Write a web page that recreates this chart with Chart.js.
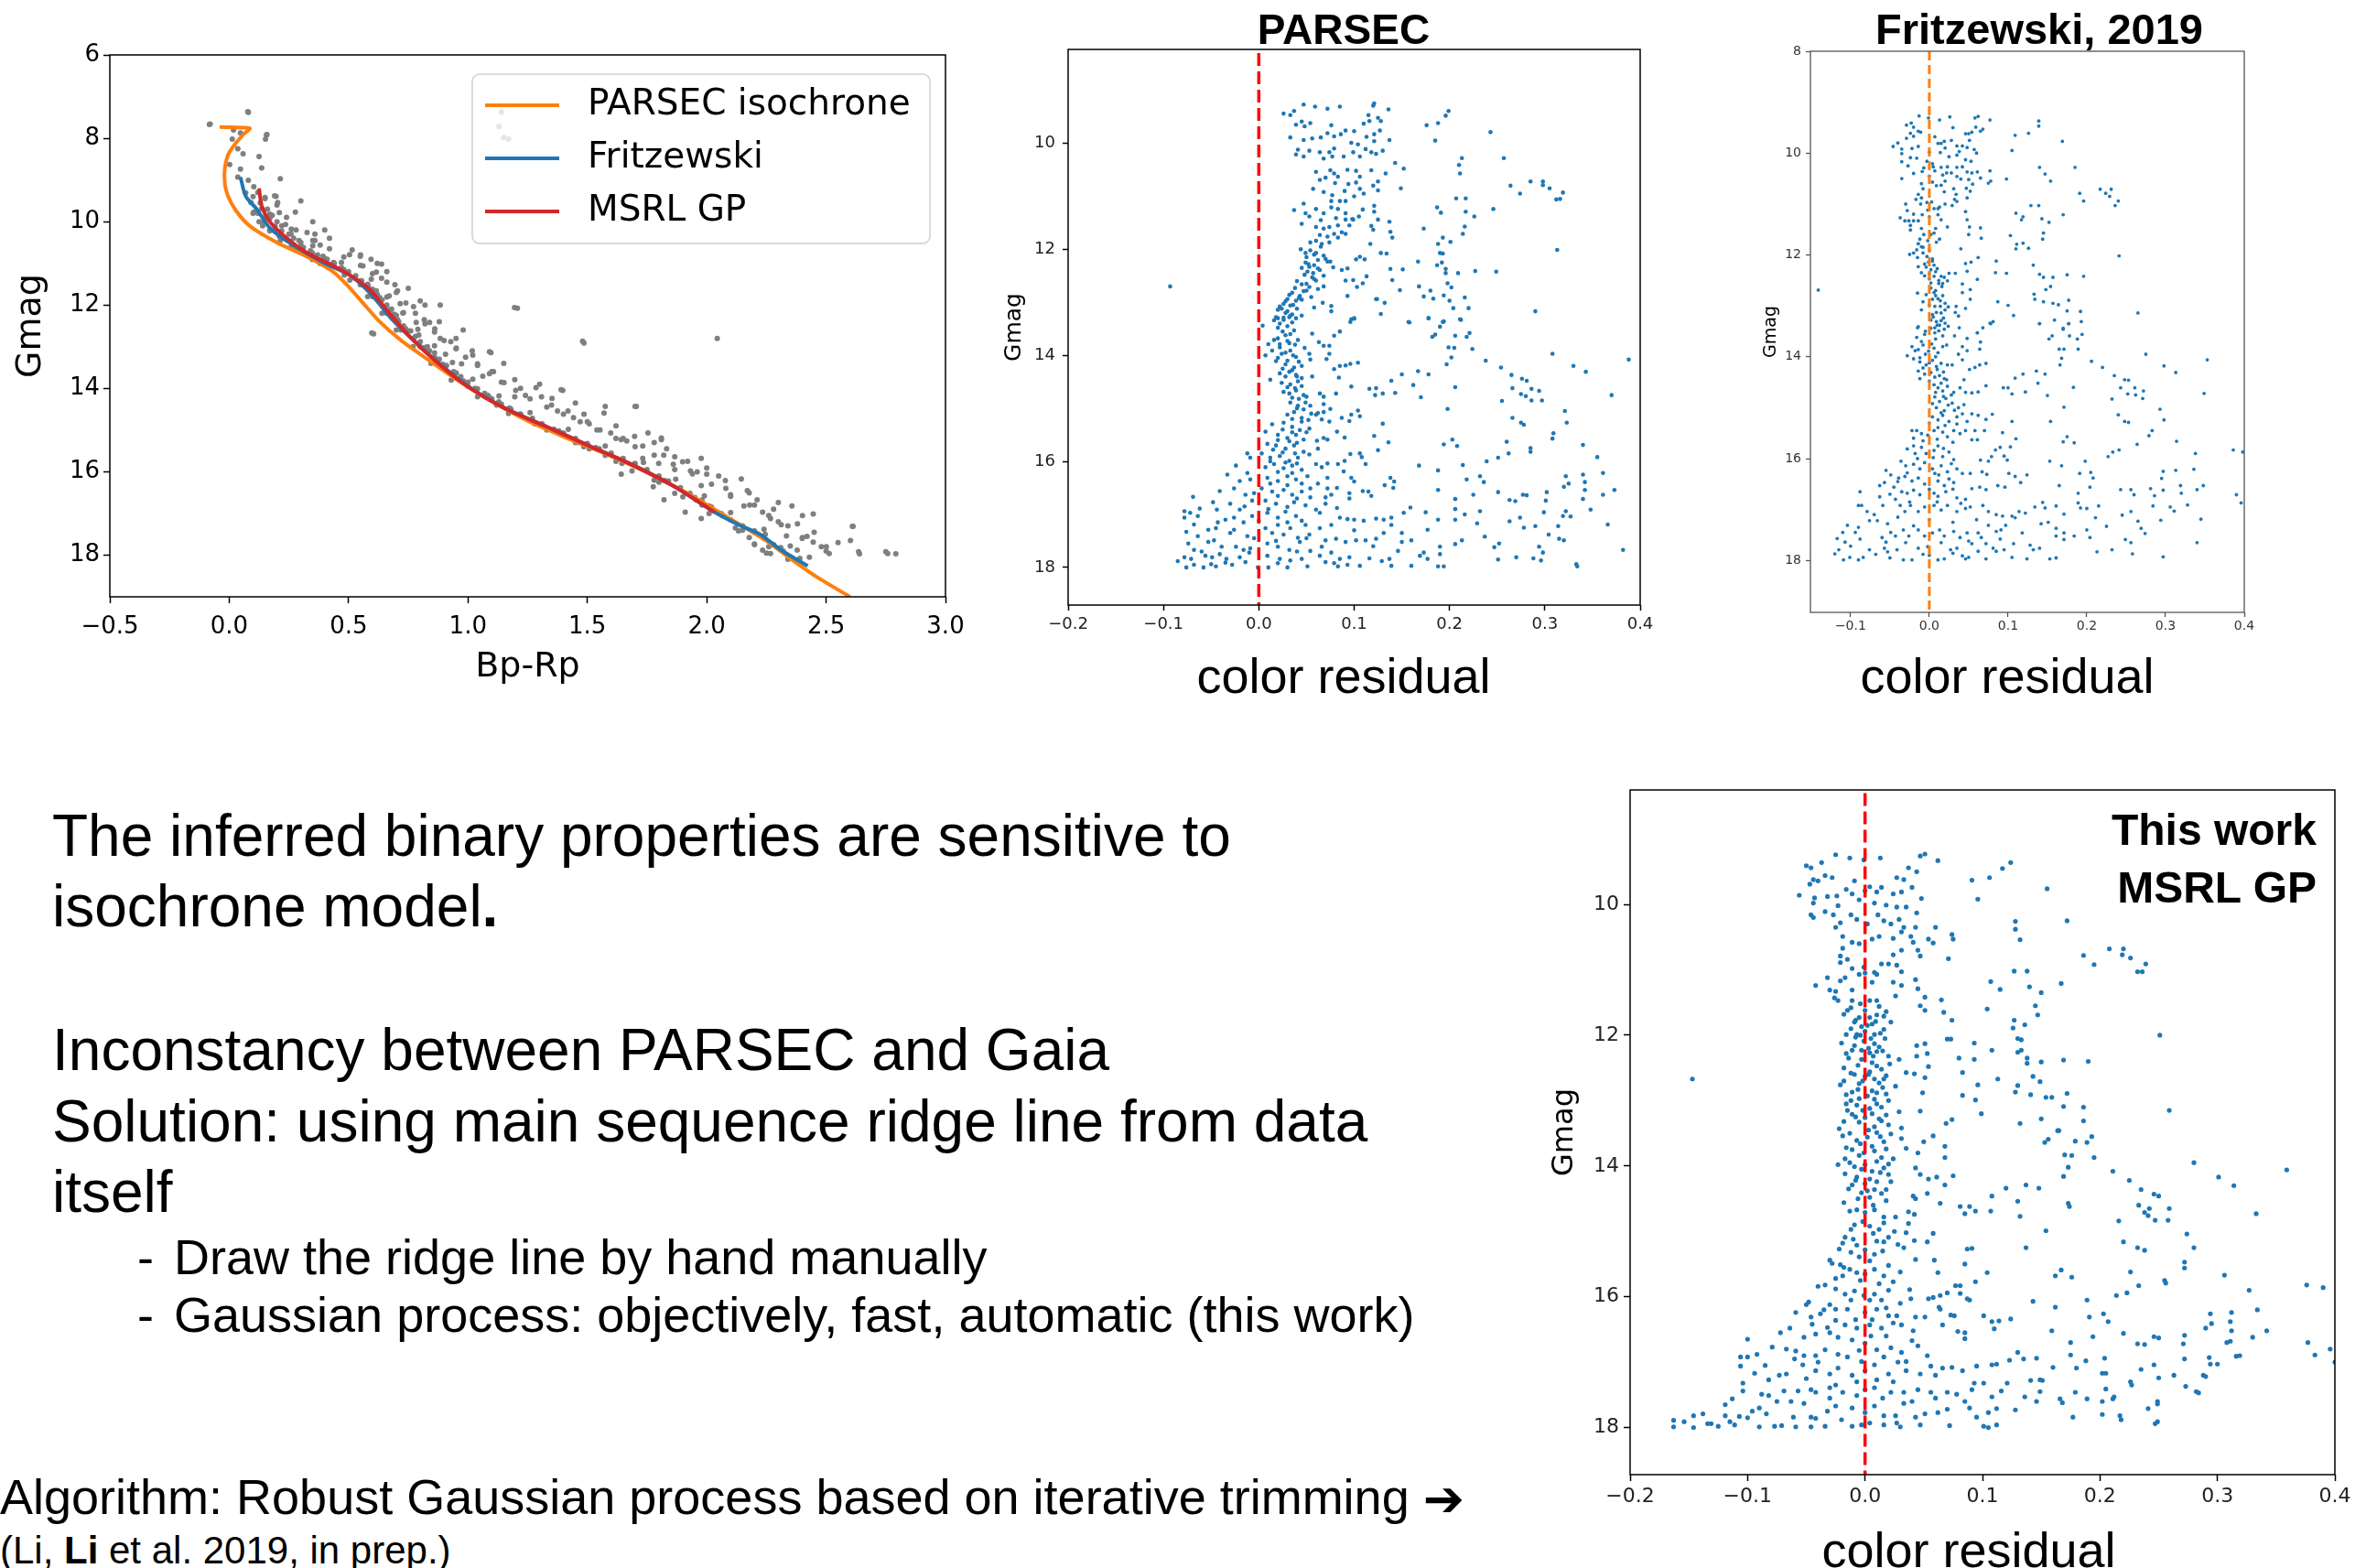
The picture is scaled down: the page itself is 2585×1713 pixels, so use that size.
<!DOCTYPE html>
<html>
<head>
<meta charset="utf-8">
<script src="https://cdn.jsdelivr.net/npm/chart.js@4.4.1/dist/chart.umd.min.js"></script>
<style>
html, body { margin: 0; padding: 0; background: #fff; }
body { width: 2585px; height: 1713px; overflow: hidden; position: relative; font-family: "Liberation Sans", Arial, Helvetica, sans-serif; color: #000; }
.cv { position: absolute; }
.t { position: absolute; white-space: nowrap; line-height: 1; }
.b { font-weight: bold; }
.c { transform: translateX(-50%); }
</style>
</head>
<body>

<canvas id="cmd" class="cv"></canvas>
<canvas id="parsec" class="cv"></canvas>
<canvas id="fritz" class="cv"></canvas>
<canvas id="gp" class="cv"></canvas>

<div class="t b c" style="left:1468px;top:9px;font-size:46px">PARSEC</div>
<div class="t b c" style="left:2228px;top:8px;font-size:47px">Fritzewski, 2019</div>
<div class="t b" style="right:54px;top:883px;font-size:48px;text-align:right">This work</div>
<div class="t b" style="right:54px;top:946px;font-size:48px;text-align:right">MSRL GP</div>
<div class="t c" style="left:1468px;top:711px;font-size:54px">color residual</div>
<div class="t c" style="left:2193px;top:711px;font-size:54px">color residual</div>
<div class="t c" style="left:2151px;top:1666px;font-size:54px">color residual</div>

<div class="t" style="left:57px;top:881px;font-size:64px">The inferred binary properties are sensitive to</div>
<div class="t" style="left:57px;top:958px;font-size:64px">isochrone model<b>.</b></div>
<div class="t" style="left:57px;top:1115px;font-size:64px">Inconstancy between PARSEC and Gaia</div>
<div class="t" style="left:57px;top:1193px;font-size:64px">Solution: using main sequence ridge line from data</div>
<div class="t" style="left:57px;top:1270px;font-size:64px">itself</div>
<div class="t" style="left:150px;top:1346px;font-size:54px">-</div>
<div class="t" style="left:190px;top:1346px;font-size:54px">Draw the ridge line by hand manually</div>
<div class="t" style="left:150px;top:1409px;font-size:54px">-</div>
<div class="t" style="left:190px;top:1409px;font-size:54px">Gaussian process: objectively, fast, automatic (this work)</div>
<div class="t" style="left:0px;top:1608px;font-size:54px">Algorithm: Robust Gaussian process based on iterative trimming <span style="font-family:'DejaVu Sans';font-weight:bold;font-size:54px;position:relative;top:2px">&#x2794;</span></div>
<div class="t" style="left:0px;top:1673px;font-size:42px">(Li, <b>Li</b> et al. 2019, in prep.)</div>

<script>
// ---- CMD panel: ridge lines (Bp-Rp, Gmag) ----
const parsecIso = [[-0.04,7.73],[0.086,7.76],[0.06,7.9],[0.03,8.1],[-0.005,8.4],[-0.02,8.86],[-0.01,9.31],[0.03,9.75],[0.09,10.12],[0.2,10.5],[0.33,10.85],[0.43,11.18],[0.49,11.5],[0.56,11.95],[0.63,12.4],[0.72,12.85],[0.83,13.3],[0.95,13.78],[1.09,14.28],[1.25,14.78],[1.41,15.18],[1.58,15.58],[1.75,16.02],[1.93,16.55],[2.09,17.1],[2.24,17.62],[2.35,18.08],[2.46,18.52],[2.6,19.0]];
const fritzRidge = [[0.047,8.93],[0.069,9.39],[0.114,9.69],[0.17,10.15],[0.259,10.53],[0.393,10.98],[0.504,11.28],[0.594,11.74],[0.683,12.35],[0.76,12.78],[0.865,13.33],[0.998,13.94],[1.155,14.47],[1.33,14.92],[1.508,15.38],[1.687,15.83],[1.866,16.36],[2.033,16.97],[2.133,17.27],[2.223,17.5],[2.312,17.88],[2.423,18.26]];
const gpRidge = [[0.125,9.2],[0.136,9.62],[0.17,10.0],[0.236,10.37],[0.326,10.75],[0.437,11.06],[0.527,11.36],[0.594,11.66],[0.66,12.12],[0.75,12.72],[0.861,13.33],[0.995,13.94],[1.151,14.47],[1.33,14.92],[1.508,15.38],[1.687,15.83],[1.866,16.36],[2.033,16.97]];

// ---- CMD panel: member stars (Bp-Rp, Gmag) ----
const cmdStars = [
[-0.08,7.66],[-0.083,7.67],[0.08,7.38],[0.078,7.36],[0.018,7.8],[0.047,7.87],[0.158,7.91],[0.156,7.92],[0.152,8.02],[0.013,8.02],[0.036,8.25],[0.058,8.37],[0.125,8.44],[0.136,8.71],[0.002,8.63],[0.047,8.74],[0.036,8.93],[0.214,8.97],[0.08,9.01],[0.103,9.16],[0.196,9.39],[0.203,9.54],[0.277,9.77],[0.069,9.31],[0.091,9.54],[0.136,9.69],[0.17,9.92],[0.192,10.11],[0.147,10.0],[0.236,10.07],[0.326,10.26],[0.359,10.3],[0.359,10.45],[0.381,10.56],[0.259,10.3],[0.292,10.45],[0.303,10.6],[0.348,10.75],[0.393,10.83],[0.437,10.98],[0.515,10.68],[0.504,10.79],[0.549,10.83],[0.594,10.9],[0.56,11.06],[0.638,11.02],[0.616,11.21],[0.638,11.36],[0.527,11.36],[0.582,11.55],[0.616,11.66],[0.694,11.51],[0.705,11.66],[0.66,11.81],[0.716,11.97],[0.772,12.04],[0.727,12.19],[0.817,12.35],[0.884,12.0],[0.605,12.69],[0.783,12.42],[0.839,12.42],[0.861,12.57],[0.794,12.72],[0.884,12.8],[0.928,12.88],[0.951,13.03],[0.839,13.1],[0.906,13.18],[1.018,13.1],[1.096,13.14],[0.973,13.41],[1.04,13.41],[1.107,13.6],[1.062,13.71],[1.151,13.86],[1.196,13.79],[1.207,12.08],[1.285,13.98],[1.308,14.2],[1.241,14.17],[1.196,14.2],[1.352,14.24],[1.397,14.05],[1.419,14.54],[1.442,14.7],[1.375,14.54],[1.486,14.62],[1.508,14.85],[1.575,14.43],[1.705,14.43],[1.553,15.0],[1.598,15.07],[1.642,15.23],[1.665,15.26],[1.486,12.91],[2.044,12.8],[1.698,15.15],[1.754,15.07],[1.81,15.23],[1.732,15.38],[1.832,15.45],[1.866,15.64],[1.899,15.76],[1.977,15.68],[2.0,15.91],[1.932,15.98],[2.0,16.06],[1.866,15.95],[1.799,15.8],[1.732,15.68],[2.078,16.21],[2.145,16.17],[2.1,16.59],[2.178,16.51],[2.211,16.67],[2.156,16.82],[2.234,16.97],[2.3,16.74],[2.267,17.12],[2.312,17.27],[2.357,16.82],[2.401,17.05],[2.446,17.01],[2.334,17.54],[2.401,17.58],[2.446,17.69],[2.501,17.8],[2.513,17.96],[2.613,17.31],[2.602,17.65],[2.636,17.92],[2.758,17.96],[2.792,17.97],[2.267,17.96],[2.234,17.88],[2.2,17.73],[2.178,17.58],[2.133,17.42],[2.245,17.5],[2.379,17.88],[1.977,17.12],[1.91,16.97],[1.955,16.67],[2.01,16.82],[2.066,17.05],[1.977,16.33],[1.821,16.21],[1.866,16.52],[1.821,16.67],[1.776,16.36],[1.687,15.98],[1.642,16.06],[1.575,15.61],[1.508,15.45],[1.464,15.3],[1.397,15.07],[1.352,15.0],[1.285,14.85],[1.218,14.62],[1.174,14.47],[1.129,14.32],[1.084,14.17],[1.04,14.01],[0.995,13.86],[0.951,13.63],[0.906,13.48],[0.861,13.26],[0.817,13.03],[0.772,12.8],[0.739,12.57],[0.705,12.35],[0.672,12.12],[0.627,11.89],[0.594,11.7],[0.549,11.51],[0.482,11.28],[0.415,11.06],[0.348,10.91],[0.281,10.68],[0.214,10.45],[0.17,10.22],[0.125,10.0],[0.103,9.77],
[0.12,9.3],[0.15,9.45],[0.13,9.55],[0.16,9.7],[0.18,9.85],[0.15,9.9],[0.2,10.0],[0.22,10.1],[0.19,10.2],[0.25,10.3],[0.27,10.4],[0.3,10.5],[0.31,10.62],[0.34,10.7],[0.37,10.8],[0.41,10.9],[0.44,11.0],[0.47,11.1],[0.5,11.2],[0.53,11.3],[0.55,11.42],[0.58,11.5],[0.6,11.62],[0.62,11.75],[0.64,11.88],[0.66,12.0],[0.68,12.1],[0.7,12.25],[0.71,12.4],[0.73,12.5],[0.76,12.62],[0.78,12.75],[0.8,12.88],[0.83,13.0],[0.86,13.15],[0.88,13.3],[0.91,13.45],[0.94,13.6],[0.97,13.72],[1.0,13.85],[1.03,14.0],[1.07,14.12],[1.1,14.25],[1.14,14.38],[1.18,14.5],[1.22,14.62],[1.27,14.72],[1.31,14.85],[1.36,14.98],[1.4,15.08],[1.45,15.2],[1.5,15.32],[1.55,15.45],[1.6,15.55],[1.65,15.68],[1.7,15.8],[1.75,15.95],[1.8,16.1],[1.84,16.22],[1.89,16.38],[1.93,16.52],[1.98,16.68],[2.02,16.85],[2.06,17.0],[2.1,17.15],[2.15,17.3],[2.2,17.45],[2.24,17.6],[2.28,17.75],[2.32,17.9],
[0.2,9.6],[0.24,9.9],[0.28,10.2],[0.35,10.45],[0.42,10.65],[0.48,10.85],[0.55,11.05],[0.6,11.25],[0.66,11.45],[0.7,11.7],[0.74,11.95],[0.78,12.2],[0.82,12.45],[0.86,12.65],[0.9,12.85],[0.95,13.05],[0.99,13.25],[1.04,13.45],[1.09,13.65],[1.14,13.85],[1.2,14.05],[1.26,14.25],[1.33,14.45],[1.4,14.62],[1.47,14.8],[1.54,15.0],[1.62,15.2],[1.7,15.4],[1.78,15.6],[1.86,15.82],[1.94,16.05],[2.02,16.3],[2.1,16.55],[2.18,16.8],[2.26,17.05],[2.34,17.3],[2.42,17.55],[2.48,17.8],
[0.1,9.8],[0.14,10.1],[0.21,10.35],[0.3,10.6],[0.4,10.88],[0.48,11.15],[0.55,11.45],[0.6,11.8],[0.66,12.2],[0.72,12.6],[0.8,13.0],[0.9,13.5],[1.0,13.95],[1.12,14.4],[1.28,14.85],[1.45,15.3],[1.62,15.75],[1.8,16.25],[1.98,16.8],[2.12,17.35],[2.2,17.75],[2.25,17.95],
[0.597,12.67],[1.195,12.06],[1.48,12.87],[1.09,13.12],[1.39,14.03],[1.57,14.59],[1.7,14.43],[1.81,15.19],[2.61,17.31],[2.64,17.97],[2.75,17.92],[1.14,7.37],[1.13,7.72],[1.15,7.98],[1.17,8.02],
[0.1,9.4],[0.15,9.42],[0.19,9.38],[0.12,9.8],[0.17,9.82],[0.21,9.78],[0.17,10.2],[0.22,10.22],[0.26,10.18],[0.26,10.6],[0.31,10.62],[0.35,10.58],[0.38,11.0],[0.43,11.02],[0.47,10.98],[0.505,11.4],[0.555,11.42],[0.595,11.38],[0.58,11.8],[0.63,11.82],[0.67,11.78],[0.64,12.2],[0.69,12.22],[0.73,12.18],[0.7,12.6],[0.75,12.62],[0.79,12.58],[0.77,13.0],[0.82,13.02],[0.86,12.98],[0.845,13.4],[0.895,13.42],[0.935,13.38],[0.93,13.8],[0.98,13.82],[1.02,13.78],[1.04,14.2],[1.09,14.22],[1.13,14.18],[1.17,14.6],[1.22,14.62],[1.26,14.58],[1.33,15.0],[1.38,15.02],[1.42,14.98],[1.485,15.4],[1.535,15.42],[1.575,15.38],[1.645,15.8],[1.695,15.82],[1.735,15.78],[1.78,16.2],[1.83,16.22],[1.87,16.18],[1.9,16.6],[1.95,16.62],[1.99,16.58],[2.01,17.0],[2.06,17.02],[2.1,16.98],[2.15,17.4],[2.2,17.42],[2.24,17.38],[2.26,17.8],[2.31,17.82],[2.35,17.78],[2.34,18.1],[2.39,18.08],[2.43,18.05],
[0.3,9.5],[0.35,10.0],[0.42,10.4],[0.55,10.8],[0.66,11.2],[0.75,11.6],[0.82,12.0],[0.88,12.4],[0.95,12.8],[1.02,13.2],[1.1,13.6],[1.22,14.0],[1.35,14.4],[1.5,14.8],[1.65,15.2],[1.82,15.6],[1.96,16.0],[2.08,16.4],[2.2,16.8],[2.3,17.2],[2.4,17.6],[2.5,17.9],[0.4,10.2],[0.62,11.0],[0.8,11.9],[0.98,12.6],[1.15,13.4],[1.3,13.9],[1.45,14.35],[1.62,14.9],[1.78,15.3],[1.92,15.75],[2.05,16.1],[2.17,16.45],[2.28,16.9],[2.38,17.25],[2.45,17.45],[2.55,17.7]
];

// ---- Residual panels (color residual, Gmag) ----
const parsecResid = [
[0.026,9.44],[0.033,9.47],[0.037,9.39],[0.047,9.27],[0.059,9.31],[0.072,9.35],[0.085,9.31],[0.12,9.29],[0.121,9.25],[0.136,9.36],[0.039,9.65],[0.045,9.59],[0.048,9.68],[0.054,9.62],[0.076,9.66],[0.115,9.47],[0.11,9.63],[0.116,9.58],[0.125,9.52],[0.128,9.58],[0.033,9.89],[0.047,9.94],[0.056,9.91],[0.065,9.89],[0.072,9.81],[0.079,9.87],[0.086,9.83],[0.091,9.76],[0.1,9.77],[0.097,9.99],[0.104,10.02],[0.113,9.88],[0.121,9.96],[0.127,9.76],[0.137,9.94],[0.121,9.83],[0.041,10.12],[0.053,10.14],[0.064,10.17],[0.074,10.17],[0.079,10.1],[0.089,10.25],[0.099,10.17],[0.106,10.25],[0.112,10.11],[0.118,10.17],[0.123,10.2],[0.13,10.14],[0.039,10.21],[0.047,10.25],[0.068,10.29],[0.077,10.25],[0.06,10.54],[0.064,10.69],[0.075,10.51],[0.079,10.57],[0.083,10.63],[0.093,10.5],[0.102,10.52],[0.106,10.63],[0.118,10.51],[0.125,10.72],[0.133,10.57],[0.143,10.37],[0.152,10.48],[0.057,10.86],[0.068,10.92],[0.077,10.98],[0.085,11.09],[0.091,11.09],[0.076,11.09],[0.094,10.77],[0.102,10.74],[0.106,10.86],[0.12,10.8],[0.125,10.89],[0.149,10.85],[0.037,11.26],[0.047,11.14],[0.049,11.32],[0.045,11.52],[0.053,11.38],[0.06,11.24],[0.068,11.32],[0.076,11.21],[0.083,11.24],[0.091,11.32],[0.081,11.41],[0.098,11.43],[0.109,11.25],[0.121,11.18],[0.121,11.29],[0.125,11.44],[0.137,11.48],[0.118,11.56],[0.12,11.63],[0.06,11.58],[0.068,11.61],[0.074,11.58],[0.064,11.73],[0.072,11.76],[0.079,11.71],[0.083,11.78],[0.091,11.71],[0.054,11.87],[0.06,11.84],[0.066,11.9],[0.074,11.87],[0.044,12.0],[0.049,12.07],[0.054,12.02],[0.06,12.07],[0.068,12.12],[0.075,12.23],[0.049,12.25],[0.053,12.33],[0.058,12.3],[0.064,12.39],[0.068,12.5],[0.051,12.42],[0.056,12.53],[0.06,12.59],[0.053,12.71],[0.047,12.79],[0.043,12.88],[0.03,12.94],[0.026,13.03],[0.033,13.06],[0.039,12.97],[0.02,13.14],[0.03,13.17],[0.035,13.23],[0.016,13.34],[0.026,13.29],
[0.05,12.15],[0.062,12.2],[0.045,12.35],[0.057,12.45],[0.04,12.6],[0.05,12.65],[0.062,12.75],[0.035,12.82],[0.045,12.95],[0.055,12.9],[0.022,13.08],[0.04,13.12],[0.028,13.2],[0.045,13.25],[0.02,13.3],
[0.093,12.36],[0.102,12.19],[0.106,12.14],[0.111,12.19],[0.113,12.51],[0.109,12.64],[0.103,12.71],[0.093,12.88],[0.117,11.9],[0.128,12.07],[0.134,12.08],[0.138,12.37],[0.14,12.58],[0.151,12.38],[0.148,12.77],[0.124,12.94],[0.132,13.01],[0.128,13.22],[0.167,12.23],[0.173,11.61],[0.168,12.7],[0.173,12.89],[0.18,12.78],[0.183,12.93],[0.187,11.21],[0.191,11.31],[0.193,11.78],[0.188,11.9],[0.19,12.07],[0.193,12.08],[0.187,12.3],[0.192,12.25],[0.196,12.37],[0.196,12.45],[0.198,12.64],[0.202,12.72],[0.194,12.87],[0.2,12.97],[0.204,13.11],[0.209,12.45],[0.201,11.86],[0.176,9.66],[0.188,9.62],[0.196,9.48],[0.199,9.39],[0.185,9.95],[0.243,9.79],[0.257,10.28],[0.21,10.41],[0.211,10.57],[0.213,10.28],[0.207,11.04],[0.217,11.04],[0.217,11.29],[0.226,11.38],[0.216,11.57],[0.214,11.71],[0.246,11.24],[0.264,10.8],[0.274,10.95],[0.285,10.72],[0.298,10.72],[0.298,10.79],[0.305,10.85],[0.319,10.93],[0.312,11.06],[0.316,11.05],[0.313,12.01],[0.29,13.17],[0.227,12.41],[0.249,12.42],[0.22,13.11],[0.216,12.91],[0.212,13.33],[0.193,13.37],[0.178,13.3],[0.157,13.37],[0.1,13.31],[0.096,13.37],[0.091,12.59],[0.099,12.58],[0.087,12.39],[0.078,12.34],[0.072,12.23],[0.068,12.7],[0.076,13.07],[0.076,13.17],[0.067,13.01],[0.058,13.1],[0.138,11.67],[0.14,11.78],[0.123,12.94],[0.091,11.44],[0.099,11.44],[0.083,11.55],[0.087,11.68],[-0.093,12.7],
[0.018,13.28],[0.026,13.33],[0.033,13.25],[0.039,13.3],[0.02,13.48],[0.03,13.45],[0.037,13.53],[0.028,13.62],[0.016,13.71],[0.022,13.79],[0.032,13.77],[0.041,13.71],[0.014,13.91],[0.024,13.97],[0.033,13.91],[0.039,14.03],[0.018,14.11],[0.028,14.17],[0.037,14.23],[0.045,14.2],[0.022,14.34],[0.032,14.31],[0.039,14.37],[0.045,14.43],[0.024,14.52],[0.033,14.55],[0.041,14.49],[0.026,14.69],[0.032,14.72],[0.039,14.66],[0.047,14.75],[0.033,14.89],[0.041,14.95],[0.049,14.89],[0.054,14.95],[0.03,15.12],[0.037,15.07],[0.045,15.18],[0.062,15.09],[0.068,15.07],[0.014,15.3],[0.026,15.27],[0.035,15.35],[0.043,15.41],[0.053,15.38],[0.007,15.44],[0.02,15.5],[0.03,15.56],[0.039,15.5],[0.047,15.59],[0.009,15.67],[0.018,15.7],[0.028,15.76],[0.037,15.7],[0.047,15.82],[0.003,15.85],[0.012,15.93],[0.022,15.9],[0.032,15.99],[0.041,15.93],[0.007,16.11],[0.016,16.05],[0.026,16.13],[0.035,16.08],[0.045,16.16],[0.009,16.31],[0.02,16.37],[0.03,16.28],[0.039,16.34],[0.051,16.28],[0.003,16.51],[0.014,16.57],[0.026,16.54],[0.035,16.63],[0.045,16.57],[0.054,16.51],[0.007,16.74],[0.018,16.8],[0.03,16.86],[0.037,16.77],[0.049,16.83],[0.06,16.91],
[-0.012,15.85],[-0.009,15.93],[-0.024,16.08],[-0.012,16.22],[-0.009,16.34],[-0.033,16.25],[-0.02,16.37],[-0.026,16.51],[-0.041,16.56],[-0.014,16.63],[-0.007,16.74],[-0.069,16.67],[-0.048,16.77],[-0.03,16.8],[-0.02,16.91],[-0.044,16.91],[-0.078,16.94],[-0.072,16.97],[-0.062,16.89],[-0.064,17.03],[-0.078,17.06],[-0.068,17.19],[-0.043,17.15],[-0.026,17.06],[-0.016,17.15],[-0.007,17.03],[-0.053,17.29],[-0.045,17.26],[-0.076,17.33],[-0.026,17.29],[-0.012,17.41],[-0.064,17.41],[-0.053,17.52],[-0.047,17.49],[-0.074,17.55],[-0.068,17.67],[-0.039,17.61],[-0.024,17.61],[-0.016,17.67],[-0.009,17.64],[-0.056,17.78],[-0.049,17.81],[-0.041,17.75],[-0.034,17.84],[-0.02,17.81],[-0.085,17.88],[-0.078,17.81],[-0.071,17.84],[-0.076,18.0],[-0.068,17.95],[-0.058,18.0],[-0.05,17.94],[-0.035,17.91],[-0.028,17.95],[-0.014,17.9],[-0.001,18.0],
[0.009,16.97],[0.02,17.06],[0.03,17.15],[0.039,17.03],[0.049,17.2],[0.007,17.26],[0.014,17.35],[0.026,17.38],[0.033,17.26],[0.041,17.44],[0.053,17.38],[0.064,17.26],[0.076,17.2],[0.085,17.06],[0.093,17.09],[0.1,17.1],[0.11,17.12],[0.123,17.08],[0.131,17.1],[0.139,17.06],[0.139,17.2],[0.009,17.55],[0.02,17.61],[0.032,17.67],[0.043,17.52],[0.054,17.69],[0.066,17.61],[0.076,17.72],[0.085,17.84],[0.095,17.81],[0.009,17.78],[0.022,17.84],[0.033,17.87],[0.045,17.84],[0.051,17.98],[0.064,17.78],[0.079,17.92],[0.083,17.98],[0.093,17.95],[0.106,17.97],[0.116,17.83],[0.129,17.88],[0.137,17.84],[0.139,17.97],[0.01,18.0],[0.03,18.0],[0.07,17.49],[0.081,17.46],[0.091,17.52],[0.102,17.49],[0.112,17.49],[0.123,17.46],[0.131,17.35],[0.15,17.35],[0.15,17.52],[0.146,17.69],[0.16,17.49],[0.173,17.72],[0.169,17.78],[0.177,17.84],[0.16,17.97],[0.188,17.98],[0.194,17.98],
[0.097,13.32],[0.1,13.3],[0.158,13.38],[0.178,13.3],[0.19,13.46],[0.194,13.36],[0.211,13.32],[0.182,13.65],[0.185,13.61],[0.206,13.63],[0.218,13.65],[0.221,13.58],[0.199,13.85],[0.205,13.86],[0.224,13.88],[0.202,14.04],[0.197,14.17],[0.238,14.1],[0.254,14.23],[0.265,14.37],[0.276,14.44],[0.281,14.48],[0.266,14.62],[0.275,14.73],[0.28,14.77],[0.286,14.85],[0.297,14.85],[0.286,14.63],[0.294,14.67],[0.255,14.86],[0.308,13.97],[0.33,14.2],[0.343,14.31],[0.37,14.75],[0.388,14.08],[0.116,14.63],[0.123,14.62],[0.122,14.75],[0.13,14.72],[0.139,14.48],[0.143,14.71],[0.15,14.36],[0.167,14.3],[0.178,14.36],[0.162,14.56],[0.17,14.79],[0.206,14.6],[0.198,15.01],[0.266,15.18],[0.275,15.27],[0.278,15.31],[0.321,15.05],[0.323,15.27],[0.309,15.47],[0.308,15.57],[0.34,15.69],[0.355,15.92],[0.361,16.22],[0.373,16.54],[0.361,16.63],[0.34,16.25],[0.342,16.39],[0.342,16.54],[0.322,16.28],[0.325,16.42],[0.32,16.48],[0.34,16.71],[0.348,16.91],[0.322,16.94],[0.327,17.04],[0.319,17.03],[0.314,17.22],[0.315,17.46],[0.32,17.49],[0.366,17.19],[0.382,17.67],[0.333,17.94],[0.334,17.98],
[0.26,15.63],[0.262,15.85],[0.251,15.93],[0.239,16.0],[0.285,15.75],[0.285,15.82],[0.302,16.58],[0.301,16.74],[0.299,16.96],[0.304,17.38],[0.294,17.61],[0.298,17.72],[0.296,17.87],[0.288,17.83],[0.277,16.63],[0.281,16.64],[0.263,16.73],[0.269,16.75],[0.251,16.58],[0.274,17.06],[0.263,17.13],[0.278,17.25],[0.29,17.22],[0.27,17.81],[0.251,17.85],[0.252,17.55],[0.247,17.62],[0.237,17.42],[0.229,17.17],[0.232,16.94],[0.216,17.0],[0.206,16.71],[0.206,16.9],[0.206,17.1],[0.213,17.49],[0.206,17.56],[0.19,17.61],[0.19,17.75],[0.188,17.1],[0.188,16.54],[0.175,16.96],[0.177,17.29],[0.168,16.08],[0.159,16.87],[0.152,16.97],[0.225,16.63],[0.218,16.34],[0.232,16.28],[0.236,16.39],[0.214,16.07],[0.188,16.17],[0.203,15.59],[0.194,15.68],[0.208,15.71],[0.138,16.31],[0.142,16.38],[0.132,16.45],[0.141,16.5],[0.125,15.79],[0.121,15.52],[0.136,15.64],[0.13,15.29],
[0.106,15.85],[0.108,15.92],[0.112,16.05],[0.096,15.86],[0.09,15.99],[0.089,16.19],[0.082,16.5],[0.072,16.51],[0.07,16.68],[0.076,16.63],[0.097,16.31],[0.1,16.38],[0.095,16.7],[0.109,16.56],[0.115,16.57],[0.118,16.65],[0.095,16.6],[0.082,16.88],[0.097,14.59],[0.096,14.16],[0.104,14.14],[0.091,14.19],[0.085,14.2],[0.079,14.26],[0.084,14.42],[0.104,15.04],[0.106,15.15],[0.097,15.12],[0.095,15.24],[0.087,15.18],[0.082,15.44],[0.06,15.12],[0.066,15.21],[0.074,15.25],[0.068,15.56],[0.072,15.59],[0.061,15.61],[0.062,15.76],[0.053,15.87],[0.06,16.05],[0.066,16.11],[0.072,16.04],[0.083,16.05],[0.072,16.31],[0.062,16.42],[0.054,16.68],[0.064,16.97],[0.048,13.86],[0.053,13.97],[0.054,14.08],[0.056,14.4],[0.056,13.59],[0.063,13.75],[0.068,13.82],[0.074,13.82],[0.074,13.97],[0.071,14.07],[0.085,13.55],[0.079,13.63],[0.064,14.72],[0.068,14.78],[0.081,14.72],[0.068,14.92],[0.075,15.01],[0.004,13.44],[0.01,13.79],[0.007,14.0],[0.012,14.46],
[0.065,11.95],[0.058,12.1],[0.07,12.18],[0.052,12.28],[0.062,12.36],[0.048,12.48],[0.058,12.56],[0.045,12.66],[0.038,12.73],[0.05,12.78],[0.032,12.86],[0.042,12.92],[0.028,12.98],[0.036,13.05],[0.024,13.12],[0.032,13.28],[0.022,13.4],[0.035,13.38],[0.025,13.55],[0.033,13.6],[0.02,13.68],[0.03,13.73],[0.038,13.8],[0.022,13.85],[0.028,13.95],[0.036,14.0],[0.02,14.05],[0.03,14.1],[0.042,14.12],[0.025,14.25],[0.035,14.28],[0.028,14.4],[0.04,14.4],[0.03,14.6],[0.038,14.62],[0.045,14.58],[0.035,14.8],[0.042,14.82],[0.05,14.78],[0.04,15.0],[0.047,15.02],[0.055,15.1],[0.035,15.2],[0.045,15.25],[0.052,15.22],[0.025,15.4],[0.035,15.45],[0.05,15.45],[0.02,15.6],[0.032,15.62],[0.04,15.65],[0.015,15.78],[0.025,15.83],[0.038,15.85],[0.012,16.0],[0.028,16.02],[0.04,16.04],[0.02,16.2],[0.035,16.22],[0.012,16.42],[0.03,16.45],[0.045,16.42],[-0.005,16.6],[0.02,16.65],[0.04,16.7],[-0.015,16.85],[0.01,16.9],[0.028,16.95],[-0.035,17.1],[0.0,17.12],[0.02,17.2],[0.045,17.12],[-0.03,17.35],[-0.005,17.45],[0.018,17.5],[0.05,17.45],[-0.06,17.7],[-0.01,17.72],[0.04,17.7],[0.07,17.9],[0.02,17.92],[-0.045,17.98],[0.1,17.3],[0.12,17.6],[0.07,16.8],[0.09,15.55],[0.08,10.75],[0.09,10.9],[0.07,10.65],[0.1,11.0],[0.11,10.95],[0.065,11.45],[0.095,11.55],[0.105,11.38]
];

const fritzResid = [
[-0.013,9.27],[-0.001,9.31],[0.013,9.35],[0.026,9.29],[0.058,9.31],[0.062,9.28],[0.077,9.35],[0.139,9.37],[0.139,9.47],[-0.029,9.45],[-0.023,9.41],[-0.02,9.49],[-0.014,9.57],[-0.024,9.61],[-0.02,9.67],[-0.029,9.71],[-0.011,9.59],[0.007,9.68],[0.046,9.62],[0.05,9.62],[0.054,9.59],[0.059,9.49],[0.065,9.57],[0.068,9.53],[0.109,9.65],[0.126,9.61],[0.169,9.77],[-0.046,9.87],[-0.035,9.92],[-0.035,10.01],[-0.022,9.91],[-0.014,9.87],[-0.024,10.09],[-0.035,10.17],[-0.027,10.25],[-0.016,10.1],[-0.007,10.29],[-0.009,10.36],[-0.003,10.16],[0.0,9.98],[0.004,10.21],[0.005,10.27],[0.011,9.81],[0.015,9.81],[0.019,9.77],[0.028,9.75],[0.035,9.86],[0.038,9.97],[0.042,9.86],[0.048,9.89],[0.051,9.75],[0.057,9.93],[0.014,9.99],[0.025,10.07],[0.035,10.04],[0.046,10.13],[0.053,10.16],[0.042,10.27],[0.035,10.28],[0.023,10.27],[0.015,10.28],[0.007,10.35],[0.017,10.43],[0.022,10.39],[0.028,10.39],[0.035,10.46],[0.04,10.51],[0.048,10.37],[0.054,10.39],[0.061,10.37],[0.065,10.49],[0.077,10.35],[0.078,10.55],[0.075,10.59],[0.05,10.52],[0.055,10.61],[0.047,10.69],[0.052,10.75],[0.004,10.57],[0.009,10.64],[0.015,10.63],[0.019,10.76],[0.031,10.7],[0.034,10.81],[0.032,10.91],[0.029,11.03],[0.048,10.88],[-0.008,10.7],[-0.01,10.88],[-0.014,10.81],[-0.017,10.91],[-0.011,11.0],[-0.003,10.97],[0.003,10.96],[0.006,11.09],[0.011,11.09],[0.013,11.06],[-0.028,11.13],[-0.037,11.27],[-0.031,11.33],[-0.026,11.33],[-0.02,11.33],[-0.014,11.33],[-0.024,11.42],[-0.024,11.51],[-0.009,11.21],[-0.002,11.12],[0.011,11.21],[0.015,11.31],[0.023,11.45],[0.008,11.48],[-0.01,11.48],[-0.007,11.6],[-0.012,11.69],[-0.014,11.78],[-0.01,11.84],[-0.016,11.9],[-0.02,11.96],[-0.025,11.99],[-0.008,11.96],[-0.002,11.72],[0.002,11.6],[0.006,11.57],[0.009,11.75],[0.013,11.69],[-0.003,12.03],[-0.001,12.14],[0.004,12.12],[0.006,12.2],[0.002,12.29],[-0.004,12.24],[-0.014,12.23],[-0.01,12.35],[-0.006,12.41],[0.0,12.47],[0.006,12.42],[0.008,12.33],[0.015,12.42],[0.019,12.44],[0.012,12.56],[0.017,12.56],[0.023,12.51],[0.002,12.65],[0.006,12.74],[0.008,12.8],[0.004,12.87],[0.011,12.86],[0.017,12.8],[-0.008,12.92],[0.0,12.98],[0.007,13.01],[0.014,13.01],[0.02,12.95],[0.024,13.02],[0.009,13.13],[0.015,13.14],[0.004,13.17],[0.002,13.28],[0.009,13.31],[0.015,13.29],[0.02,13.34],[0.007,13.43],[0.012,13.49],[0.019,13.46],[-0.015,12.75],[-0.015,13.43],[-0.01,13.08],
[0.105,9.95],[0.14,10.28],[0.147,10.41],[0.154,10.55],[0.185,10.28],[0.191,10.79],[0.196,10.94],[0.217,10.71],[0.224,10.79],[0.231,10.71],[0.229,10.85],[0.236,11.03],[0.24,10.94],[0.129,11.03],[0.139,11.03],[0.11,11.18],[0.117,11.31],[0.143,11.29],[0.152,11.36],[0.17,11.21],[0.098,10.51],[0.046,11.15],[0.048,11.31],[0.051,11.45],[0.065,11.47],[0.05,11.6],[0.066,11.67],[0.103,11.62],[0.145,11.57],[0.144,11.69],[0.119,11.77],[0.11,11.88],[0.126,11.87],[0.04,11.88],[0.062,12.05],[0.053,12.14],[0.046,12.17],[0.048,12.32],[0.042,12.57],[0.052,12.68],[0.061,12.48],[0.025,12.36],[0.033,12.36],[0.085,12.12],[0.084,12.35],[0.098,12.36],[0.132,12.2],[0.14,12.38],[0.145,12.44],[0.157,12.44],[0.175,12.39],[0.196,12.42],[0.154,12.62],[0.148,12.68],[0.134,12.87],[0.133,12.77],[0.145,12.92],[0.157,12.95],[0.164,12.98],[0.177,12.89],[0.175,13.1],[0.192,13.11],[0.193,13.31],[0.177,13.35],[0.159,13.28],[0.17,13.46],[0.14,13.35],[0.241,12.02],[0.265,13.14],[0.087,12.92],[0.1,12.99],[0.107,13.19],[0.081,13.31],[0.078,13.35],[0.042,12.74],[0.052,12.87],[0.034,13.01],[0.033,13.13],[0.037,13.2],[0.046,13.05],[0.061,13.53],[0.068,13.43],[0.119,11.25],[0.111,11.79],[-0.141,12.69],
[-0.014,13.41],[-0.006,13.56],[0.002,13.44],[0.007,13.53],[0.013,13.38],[0.017,13.59],[-0.016,13.62],[-0.022,13.8],[-0.014,13.86],[-0.008,13.77],[-0.001,13.89],[0.006,13.83],[0.011,13.92],[0.017,13.8],[-0.028,13.98],[-0.02,14.04],[-0.012,14.1],[-0.004,14.16],[0.004,14.07],[0.009,14.19],[0.015,14.13],[0.023,14.16],[-0.014,14.28],[-0.006,14.34],[0.002,14.31],[0.007,14.4],[0.013,14.37],[0.019,14.43],[-0.012,14.43],[0.006,14.55],[0.011,14.61],[0.017,14.67],[0.023,14.58],[0.031,14.7],[0.039,14.61],[0.046,14.7],[0.007,14.79],[0.013,14.88],[0.021,14.82],[0.029,14.91],[0.037,15.0],[0.044,14.94],[0.009,15.0],[0.019,15.06],[0.004,15.18],[0.011,15.24],[0.017,15.15],[0.025,15.27],[0.035,15.18],[0.042,15.12],[0.048,15.27],[-0.022,15.45],[-0.016,15.45],[-0.01,15.51],[-0.02,15.6],[-0.002,15.54],[0.006,15.45],[0.011,15.39],[0.017,15.48],[0.023,15.57],[0.031,15.45],[0.039,15.51],[-0.028,15.81],[-0.018,15.9],[-0.01,15.78],[-0.004,15.9],[0.006,15.84],[0.011,15.75],[0.017,15.96],[0.025,15.87],[0.031,16.02],[-0.036,16.05],[-0.03,16.14],[-0.02,16.11],[-0.012,16.2],[-0.006,16.08],[0.004,16.2],[0.007,16.29],[0.015,16.14],[0.023,16.26],[0.035,16.2],[-0.055,16.23],[-0.049,16.32],[-0.039,16.38],[-0.031,16.35],[-0.022,16.44],[-0.014,16.38],[-0.006,16.5],[0.011,16.44],[0.019,16.53],[0.031,16.47],[0.042,16.29],[0.052,16.29],[-0.063,16.53],[-0.057,16.47],[-0.045,16.56],[-0.035,16.65],[-0.028,16.68],[-0.02,16.62],[-0.012,16.71],[0.006,16.68],[0.011,16.74],[0.021,16.65],[0.035,16.77],[0.046,16.8],[-0.088,16.65],[-0.086,16.92],[-0.09,16.92],[-0.079,17.04],[-0.063,16.75],[-0.059,16.92],[-0.043,16.8],[-0.037,16.92],[-0.031,17.04],[-0.024,16.92],[-0.014,17.04],[-0.006,16.95],[0.006,16.92],[0.015,17.01],[0.023,16.92],[0.035,17.04],[0.046,16.98],[-0.104,17.31],[-0.11,17.45],[-0.117,17.57],[-0.107,17.64],[-0.094,17.45],[-0.088,17.58],[-0.076,17.22],[-0.066,17.22],[-0.053,17.28],[-0.049,17.45],[-0.055,17.64],[-0.043,17.52],[-0.033,17.4],[-0.026,17.52],[-0.014,17.4],[-0.006,17.52],[0.004,17.46],[0.013,17.4],[0.019,17.52],[0.031,17.43],[0.039,17.55],[0.048,17.46],[-0.12,17.87],[-0.115,17.79],[-0.109,17.99],[-0.101,17.94],[-0.09,17.99],[-0.084,17.94],[-0.076,17.79],[-0.068,17.88],[-0.057,17.76],[-0.053,17.83],[-0.041,17.79],[-0.033,17.99],[-0.022,17.99],[-0.014,17.76],[-0.008,17.88],[-0.002,17.73],[0.011,17.99],[0.019,17.97],[0.027,17.79],[0.035,17.76],[0.042,17.91],[0.046,17.97],[0.05,17.94],[0.062,17.82],[0.072,17.97],[0.081,17.76],[0.085,17.82],[0.095,17.79],[0.105,17.94],[0.124,17.97],[0.132,17.79],[0.153,17.97],[0.161,17.95],
[0.054,16.59],[0.064,16.56],[0.072,16.61],[0.052,16.95],[0.068,16.92],[0.075,17.04],[0.085,17.1],[0.093,17.13],[0.105,17.13],[0.114,17.04],[0.122,17.07],[0.109,17.16],[0.085,17.43],[0.091,17.4],[0.107,17.67],[0.062,17.46],[0.066,17.55],[0.072,17.67],[0.054,17.67],[0.075,17.31],[0.097,17.31],[0.118,17.46],[0.128,17.7],[0.14,17.76],[0.142,17.28],[0.151,17.25],[0.161,17.37],[0.161,17.52],[0.171,17.46],[0.171,17.59],[0.184,17.52],[0.204,17.55],[0.213,17.83],[0.232,17.79],[0.249,17.59],[0.256,17.65],[0.258,17.87],[0.297,17.93],[0.134,16.95],[0.144,16.86],[0.147,16.97],[0.161,16.93],[0.171,17.09],[0.189,16.87],[0.2,16.98],[0.215,16.93],[0.211,17.16],[0.225,17.33],[0.245,17.11],[0.256,17.04],[0.265,17.23],[0.269,17.37],[0.274,17.47],[0.284,16.93],[0.294,17.21],[0.306,16.95],[0.311,17.03],[0.328,16.91],[0.345,17.19],[0.34,17.65],[0.396,16.87],[0.39,16.71],
[0.243,16.61],[0.256,16.61],[0.26,16.71],[0.286,16.73],[0.297,16.62],[0.32,16.68],[0.34,16.61],[0.348,16.53],[0.336,16.21],[0.297,16.25],[0.295,16.39],[0.313,16.23],[0.319,16.53],[0.281,16.59],[0.279,15.55],[0.283,15.45],[0.293,15.03],[0.298,15.24],[0.314,15.66],[0.338,15.9],[0.386,15.83],[0.398,15.87],[0.353,14.06],[0.313,14.31],[0.298,14.18],[0.275,13.95],[0.272,14.67],[0.271,14.82],[0.262,14.75],[0.252,14.73],[0.261,14.61],[0.243,14.61],[0.248,14.45],[0.253,14.46],[0.235,14.37],[0.232,14.83],[0.24,15.14],[0.248,15.27],[0.253,15.29],[0.349,14.72],[0.22,14.21],[0.206,14.09],
[0.227,15.96],[0.233,15.87],[0.241,15.83],[0.264,15.72],[0.205,16.27],[0.208,16.38],[0.198,16.05],[0.191,16.29],[0.189,16.68],[0.192,16.97],[0.2,17.4],[0.204,16.56],[0.165,16.53],[0.168,16.14],[0.153,16.05],[0.17,15.67],[0.175,15.57],[0.184,15.69],[0.171,14.99],[0.154,15.27],[0.166,14.16],[0.165,13.85],[0.171,13.85],[0.168,14.03],[0.189,13.85],[0.188,13.65],[0.178,13.59],[0.152,13.65],[0.156,13.59],[0.17,13.44],[0.177,13.35],[0.194,13.56],[0.183,14.6],[0.15,14.76],[0.138,14.52],[0.136,14.28],[0.147,14.34],[0.119,14.34],[0.109,14.42],[0.1,14.61],[0.094,14.61],[0.105,14.73],[0.122,14.69],[0.105,15.27],[0.093,15.49],[0.11,15.61],[0.103,15.77],[0.095,15.95],[0.099,16.03],[0.09,15.78],[0.084,15.83],[0.079,15.96],[0.075,16.05],[0.065,16.03],[0.067,16.26],[0.073,16.31],[0.087,16.53],[0.096,16.56],[0.101,16.29],[0.109,16.35],[0.116,16.47],[0.124,16.32],[0.07,15.45],[0.072,15.23],[0.08,15.13],[0.062,15.15],[0.058,15.45],[0.061,15.63],[0.054,15.63],[0.046,15.45],[0.054,15.12],[0.072,14.57],[0.062,14.69],[0.054,14.71],[0.064,14.16],[0.058,14.21],[0.051,14.25],[0.044,14.45],[0.042,14.06],[0.037,13.95],[0.048,13.88],[0.064,13.85],[0.042,13.8],[0.032,13.59],[0.038,13.43],[0.048,13.64],[0.061,13.53],[0.065,13.71],[0.022,13.77],[0.029,14.16],[0.072,14.13],[0.077,13.34],[0.14,13.35],
[-0.008,11.85],[0.0,11.9],[-0.015,12.05],[0.004,12.08],[-0.006,12.18],[0.01,12.27],[0.0,12.37],[0.012,12.5],[0.002,12.55],[0.016,12.62],[0.008,12.7],[-0.004,12.78],[0.014,12.9],[0.02,13.08],[0.005,13.22],[0.018,13.24],[0.01,13.38],[0.024,13.4],[-0.005,13.5],[0.008,13.65],[-0.01,13.7],[0.003,13.75],[-0.018,13.88],[-0.005,13.95],[0.008,14.0],[-0.012,14.02],[0.0,14.12],[-0.008,14.22],[0.01,14.25],[0.018,14.3],[0.0,14.48],[0.022,14.45],[0.015,14.52],[0.008,14.7],[0.028,14.75],[0.018,14.78],[0.004,14.92],[0.024,14.95],[0.015,15.1],[0.032,15.05],[0.0,15.3],[0.02,15.35],[0.035,15.32],[-0.008,15.65],[0.01,15.62],[0.03,15.68],[-0.02,15.75],[0.018,15.8],[0.005,15.98],[-0.015,16.0],[0.028,16.1],[-0.028,16.28],[0.012,16.32],[0.025,16.4],[-0.04,16.45],[0.0,16.6],[0.03,16.6],[-0.05,16.7],[-0.025,16.85],[0.01,16.85],[0.04,16.88],[-0.07,17.1],[-0.04,17.15],[0.0,17.2],[0.03,17.25],[-0.09,17.35],[-0.02,17.32],[0.06,17.2],[-0.06,17.55],[0.015,17.65],[-0.1,17.72],[-0.03,17.65],[0.05,17.62],[0.09,17.58],[0.0,17.9],[-0.05,17.95],[0.03,17.86],[-0.035,10.5],[-0.02,10.4],[0.0,10.45],[0.02,10.55],[-0.01,10.6],[0.03,9.5],[-0.04,9.8],[0.02,9.9],[0.06,10.0],[-0.03,11.0],[0.0,11.25],[-0.02,11.2],[0.02,11.0],[0.035,10.95]
];

const gpResid = [
[-0.025,9.24],[-0.013,9.29],[-0.001,9.32],[0.013,9.29],[0.047,9.26],[0.051,9.23],[0.062,9.33],[-0.037,9.36],[-0.05,9.41],[-0.046,9.44],[-0.034,9.56],[-0.028,9.59],[-0.044,9.62],[-0.04,9.64],[-0.047,9.69],[-0.009,9.64],[0.027,9.59],[0.037,9.44],[0.044,9.5],[0.033,9.62],[0.091,9.63],[0.106,9.59],[0.117,9.45],[0.124,9.36],[0.155,9.76],[0.096,9.92],[-0.056,9.86],[-0.043,9.9],[-0.044,9.98],[-0.032,9.88],[-0.024,9.87],[-0.016,9.77],[-0.011,9.84],[0.0,9.79],[0.004,9.73],[0.01,9.81],[0.014,9.74],[0.024,9.84],[0.031,9.81],[0.04,9.74],[0.048,9.91],[-0.005,9.93],[0.008,9.98],[0.018,10.01],[0.027,10.04],[0.035,10.04],[-0.023,10.02],[-0.046,10.16],[-0.044,10.2],[-0.034,10.11],[-0.027,10.16],[-0.021,10.28],[-0.012,10.16],[-0.007,10.23],[0.002,10.3],[0.011,10.16],[0.016,10.25],[0.022,10.3],[0.029,10.23],[0.033,10.35],[0.044,10.13],[0.043,10.35],[-0.025,10.35],[0.06,10.35],[0.074,10.46],[0.075,10.53],[0.128,10.26],[0.128,10.38],[0.132,10.54],[0.172,10.25],[-0.019,10.49],[-0.011,10.58],[-0.019,10.67],[-0.005,10.6],[0.006,10.53],[0.012,10.49],[0.024,10.52],[0.031,10.42],[0.039,10.49],[0.041,10.58],[0.054,10.53],[0.058,10.59],[0.024,10.77],[0.031,10.7],[0.045,10.7],[0.047,10.79],[-0.021,10.79],[-0.021,10.89],[-0.011,10.98],[-0.015,10.84],[-0.001,10.96],[0.008,11.04],[0.014,10.91],[0.02,10.91],[0.027,10.93],[0.031,11.03],[0.071,10.83],[0.186,10.78],[0.195,10.92],[0.208,10.68],[0.22,10.68],[0.219,10.77],[0.226,10.82],[0.239,10.91],[0.232,11.03],[0.236,11.03],[0.127,11.02],[0.138,11.02],[-0.032,11.12],[-0.042,11.24],[-0.03,11.31],[-0.025,11.33],[-0.021,11.17],[-0.017,11.12],[-0.011,11.31],[-0.005,11.07],[0.0,11.05],[0.006,11.19],[0.01,11.07],[0.024,11.19],[0.031,11.24],[0.043,11.15],[0.045,11.29],[-0.026,11.43],[-0.023,11.47],[-0.011,11.47],[0.004,11.47],[0.01,11.47],[0.026,11.4],[0.051,11.42],[0.065,11.46],[0.107,11.18],[0.115,11.3],[0.14,11.26],[0.15,11.35],[0.167,11.21],[0.047,11.55],[0.051,11.62],[0.067,11.65],[0.074,11.77],[0.104,11.6],[0.145,11.55],[0.147,11.69],[0.0,11.62],[-0.005,11.73],[0.004,11.73],[0.01,11.69],[0.016,11.71],[0.022,11.8],[-0.009,11.8],[-0.003,11.87],[-0.016,11.99],[-0.007,11.99],[0.0,11.94],[0.008,11.99],[-0.001,12.09],[0.008,12.13],[-0.011,12.23],[-0.003,12.23],[0.004,12.27],[0.01,12.25],[0.02,12.32],[0.029,12.37],[0.044,12.16],[0.051,12.13],[0.053,12.28],[0.044,12.32],[0.07,12.06],[0.073,12.06],[0.08,12.35],[0.093,12.12],[0.093,12.37],[0.108,12.23],[0.127,11.77],[0.126,11.89],[0.136,11.84],[0.13,12.05],[0.133,12.07],[0.13,12.26],[0.133,12.23],[0.138,12.35],[0.138,12.43],[0.15,12.41],[0.169,12.38],[0.19,12.4],[0.251,12.0],[-0.147,12.67],[-0.021,12.76],[-0.016,12.91],[-0.009,12.6],[-0.005,12.74],[0.0,12.63],[0.004,12.56],[0.008,12.67],[0.016,12.67],[0.01,12.88],[0.002,12.93],[0.02,13.0],[0.026,12.78],[0.035,12.57],[0.042,12.59],[0.049,12.88],[0.054,12.48],[0.051,12.65],[0.083,12.57],[0.096,12.76],[0.083,12.92],[0.094,12.99],[0.099,13.2],[0.113,12.67],[0.13,12.77],[0.128,12.87],[0.141,12.91],[0.143,12.63],[0.149,12.71],[0.154,12.95],[0.159,12.95],[0.172,12.89],[0.169,13.09],[0.186,13.1],[0.259,13.15],[0.132,13.35],[0.15,13.28],[0.165,13.46],[0.186,13.31],[0.069,13.35],[0.074,13.29],[0.031,13.42],[0.029,13.17],[0.047,13.16],[-0.022,13.43],[-0.011,13.21],[-0.005,13.33],[0.0,13.26],[0.008,13.4],[0.014,13.31],[-0.007,13.07],[0.004,13.12],
[-0.012,11.58],[0.006,11.83],[-0.008,12.03],[0.012,12.18],[-0.014,12.35],[0.006,12.42],[-0.018,12.5],[0.014,12.52],[-0.006,12.83],[0.015,12.8],[-0.012,13.0],[0.01,13.05],[-0.015,13.15],[0.018,13.22],[-0.003,12.37],[0.005,12.05],[-0.02,12.12],[0.016,11.91],[-0.018,11.68],
[-0.019,13.54],[-0.007,13.61],[0.002,13.56],[0.01,13.49],[0.016,13.63],[0.022,13.51],[0.031,13.58],[-0.011,13.75],[-0.001,13.8],[0.008,13.77],[0.014,13.87],[0.024,13.89],[-0.017,13.89],[-0.023,13.98],[-0.009,14.01],[0.0,13.98],[0.006,14.08],[0.016,14.03],[0.02,14.13],[-0.007,14.17],[-0.011,14.29],[0.0,14.27],[0.01,14.24],[0.008,14.36],[0.018,14.36],[-0.003,14.41],[0.004,14.48],[-0.013,14.69],[-0.007,14.67],[0.0,14.71],[0.008,14.67],[0.016,14.78],[0.026,14.78],[-0.009,14.9],[0.004,14.92],[0.012,14.97],[0.02,15.09],[0.016,15.16],[-0.017,15.09],[-0.019,15.18],[-0.007,15.21],[0.0,15.28],[0.008,15.35],[-0.005,15.39],[-0.03,15.44],[-0.028,15.49],[-0.021,15.51],[-0.013,15.58],[-0.007,15.63],[0.0,15.65],[0.008,15.58],[0.016,15.68],[0.024,15.77],[-0.019,15.68],[-0.025,15.72],[-0.04,15.84],[-0.034,15.82],[-0.017,15.96],[-0.009,15.91],[-0.001,15.98],[0.008,15.96],[0.014,16.05],[-0.048,16.08],[-0.05,16.12],[-0.03,16.12],[-0.025,16.19],[-0.015,16.19],[0.0,16.24],[0.01,16.19],[0.02,16.29],[0.027,16.29],[-0.059,16.24],[-0.046,16.31],[-0.038,16.26],[-0.025,16.36],[-0.017,16.43],[-0.007,16.48],[0.004,16.43],[0.014,16.48],[0.031,16.43],[0.041,16.52],[-0.064,16.48],[-0.072,16.55],[-0.042,16.57],[-0.03,16.55],[-0.023,16.62],[-0.011,16.66],[0.0,16.71],[0.01,16.81],[0.022,16.78],[0.031,16.85],[-0.1,16.65],[-0.079,16.77],[-0.067,16.8],[-0.059,16.83],[-0.052,16.9],[-0.042,16.9],[-0.034,16.81],[-0.023,16.88],[-0.015,16.92],[-0.003,16.99],[0.008,17.04],[0.016,16.92],[0.035,16.99],[0.053,16.9],[-0.106,16.92],[-0.1,16.92],[-0.092,16.88],[-0.106,17.06],[-0.094,17.17],[-0.082,17.27],[-0.073,17.2],[-0.067,17.18],[-0.053,17.04],[-0.042,17.13],[-0.03,17.18],[-0.023,17.09],[-0.011,17.2],[-0.007,17.3],[0.0,17.13],[0.01,17.27],[0.02,17.18],[0.024,17.3],[0.035,17.13],[0.047,17.18],[0.056,17.06],[0.066,17.09],[0.074,17.08],[0.083,17.13],[0.095,17.06],[0.108,17.04],[-0.104,17.32],[-0.104,17.44],[-0.088,17.49],[-0.082,17.51],[-0.069,17.44],[-0.057,17.44],[-0.046,17.42],[-0.042,17.46],[-0.03,17.39],[-0.019,17.46],[-0.007,17.51],[0.0,17.42],[0.008,17.39],[0.022,17.46],[0.033,17.46],[0.045,17.42],[0.056,17.46],[0.07,17.46],[0.078,17.49],[0.091,17.42],[0.093,17.32],[0.101,17.32],[0.108,17.53],[0.116,17.44],[-0.119,17.65],[-0.113,17.56],[-0.119,17.82],[-0.107,17.83],[-0.096,17.75],[-0.084,17.79],[-0.063,17.6],[-0.061,17.84],[-0.052,17.63],[-0.046,17.84],[-0.042,17.86],[-0.032,17.75],[-0.025,17.67],[-0.011,17.7],[0.0,17.77],[0.008,17.67],[0.016,17.82],[0.026,17.82],[0.033,17.63],[0.043,17.84],[0.051,17.79],[0.062,17.77],[0.07,17.72],[0.089,17.7],[0.095,17.84],[0.105,17.77],[0.112,17.71],[-0.163,17.89],[-0.163,17.99],[-0.154,17.91],[-0.146,18.0],[-0.146,17.82],[-0.138,17.79],[-0.134,17.94],[-0.131,17.94],[-0.115,17.91],[-0.111,17.96],[-0.09,17.99],[-0.077,17.98],[-0.071,17.97],[-0.059,17.99],[-0.046,17.99],[-0.034,17.98],[-0.011,17.98],[-0.003,17.96],[0.004,17.93],[0.016,17.96],[0.027,17.93],[0.047,17.96],[0.072,17.97],[0.101,17.98],[0.105,18.0],[0.112,17.96],
[0.058,13.54],[0.068,13.7],[0.068,13.87],[0.05,13.63],[0.035,13.73],[0.045,13.8],[0.043,14.03],[0.047,14.13],[0.054,14.2],[0.061,14.17],[0.075,14.15],[0.068,14.29],[0.053,14.42],[0.041,14.46],[0.043,14.5],[0.064,14.57],[0.081,14.62],[0.089,14.62],[0.085,14.73],[0.094,14.69],[0.107,14.69],[0.108,14.46],[0.12,14.34],[0.137,14.29],[0.148,14.34],[0.13,14.54],[0.132,14.77],[0.154,14.99],[0.164,13.46],[0.153,13.64],[0.156,13.59],[0.179,13.62],[0.189,13.64],[0.193,13.55],[0.17,13.83],[0.176,13.84],[0.173,14.02],[0.169,14.16],[0.195,13.87],[0.211,14.08],[0.225,14.22],[0.235,14.36],[0.246,14.43],[0.25,14.46],[0.233,14.6],[0.242,14.65],[0.259,14.65],[0.238,14.71],[0.241,14.76],[0.247,14.83],[0.258,14.83],[0.173,14.57],[0.174,14.62],[0.216,14.84],[0.28,13.95],[0.301,14.17],[0.314,14.3],[0.359,14.06],[0.333,14.73],[0.22,15.16],[0.232,15.25],[0.238,15.29],[0.274,15.04],[0.28,15.25],[0.137,15.25],[0.087,15.27],[0.091,15.26],[0.085,15.5],[0.104,15.63],[0.094,15.77],[0.167,15.59],[0.162,15.68],[0.176,15.7],[0.226,15.62],[0.272,15.47],[0.272,15.56],[0.255,15.75],[0.256,15.79],[0.233,15.83],[0.223,15.94],[0.214,15.98],[0.189,16.05],[0.143,16.07],[0.162,16.16],[0.191,16.31],[0.203,16.26],[0.207,16.38],[0.22,16.56],[0.194,16.61],[0.159,16.52],[0.175,16.7],[0.232,16.72],[0.238,16.73],[0.246,16.61],[0.25,16.63],[0.272,16.59],[0.271,16.72],[0.294,16.26],[0.295,16.41],[0.29,16.48],[0.312,16.24],[0.311,16.38],[0.312,16.52],[0.308,16.7],[0.311,16.68],[0.334,16.2],[0.342,16.52],[0.33,16.62],[0.327,15.9],[0.306,15.67],[0.376,15.82],[0.39,15.86],[0.377,16.7],[0.383,16.89],[0.396,16.8],[0.4,17.0],[0.319,16.9],[0.316,16.91],[0.3,17.03],[0.294,17.03],[0.293,16.93],[0.288,17.2],[0.29,17.22],[0.272,16.95],[0.273,17.37],[0.282,17.45],[0.284,17.47],[0.263,17.2],[0.246,17.04],[0.25,17.24],[0.249,17.6],[0.249,17.64],[0.241,17.71],[0.247,17.94],[0.249,17.91],[0.235,17.11],[0.226,17.3],[0.227,17.35],[0.204,16.94],[0.202,17.17],[0.205,17.17],[0.205,17.41],[0.212,17.53],[0.211,17.56],[0.202,17.6],[0.202,17.8],[0.217,17.82],[0.218,17.88],[0.188,16.98],[0.189,17.56],[0.18,17.09],[0.175,16.89],[0.16,17.08],[0.179,17.46],[0.166,17.56],[0.168,17.62],[0.177,17.84],[0.149,17.27],[0.151,17.28],[0.141,17.28],[0.149,17.45],[0.146,17.6],[0.136,17.53],[0.13,16.85],[0.135,16.95],[0.146,16.94],[0.123,16.97],[0.112,17.03],[0.121,17.32],[0.128,17.73],[0.124,16.34],[0.114,16.37],[0.108,16.38],[0.11,16.49],[0.101,16.29],[0.085,16.55],[0.085,16.64],[0.079,16.53],[0.066,16.43],[0.076,16.29],[0.073,16.28],[0.064,16.19],[0.063,16.16],[0.054,16.03],[0.058,16.01],[0.064,15.98],[0.07,15.94],[0.077,15.83],[0.081,15.83],[0.081,15.95],[0.087,16.03],[0.089,16.05],[0.051,16.31],[0.043,16.31],[0.039,16.03],[0.038,15.89],[0.062,15.63],[0.059,15.44],[0.043,15.43],[0.053,15.16],[0.058,15.03],[0.042,15.14],[0.033,15.25],[0.035,15.02],[0.037,14.88],[0.042,14.74],[0.037,14.7],
[-0.004,11.52],[0.012,11.56],[-0.015,11.62],[0.018,11.64],[-0.008,11.77],[0.009,11.79],[0.002,11.85],[-0.012,11.9],[0.013,11.97],[-0.004,12.0],[0.017,12.05],[-0.009,12.16],[0.003,12.2],[0.015,12.24],[-0.016,12.28],[0.007,12.32],[-0.006,12.46],[0.01,12.47],[0.021,12.44],[-0.012,12.58],[0.003,12.6],[0.018,12.62],[-0.018,12.7],[-0.002,12.7],[0.012,12.73],[0.006,12.85],[-0.011,12.87],[0.018,12.9],[-0.005,12.97],[0.008,12.98],[-0.016,13.05],[0.014,13.1],[-0.002,13.15],[0.006,13.2],[-0.008,13.25],[0.012,13.28],[-0.018,13.32],[0.02,13.37],[0.003,13.45],[-0.013,13.5],[0.013,13.55],[-0.004,13.66],[0.006,13.7],[-0.016,13.72],[0.018,13.74],[-0.005,13.84],[0.01,13.93],[-0.013,13.95],[0.02,13.97],[-0.003,14.05],[0.013,14.1],[-0.017,14.12],[0.004,14.2],[-0.008,14.22],[0.022,14.24],[-0.014,14.35],[0.002,14.38],[0.014,14.42],[-0.006,14.5],[0.018,14.53],[-0.018,14.56],[0.007,14.6],[-0.002,14.85],[0.016,14.87],[-0.012,14.97],[0.007,15.03],[0.025,15.0],[-0.01,15.12],[0.01,15.15],[0.028,15.2],[-0.022,15.27],[0.015,15.3],[-0.012,15.32],[0.004,15.45],[-0.018,15.55],[0.02,15.52],[0.03,15.62],[-0.004,15.75],[0.012,15.8],[-0.025,15.88],[0.02,15.9],[0.004,16.05],[-0.012,16.05],[0.03,16.1],[-0.035,16.2],[0.018,16.17],[0.006,16.35],[-0.008,16.35],[0.024,16.4],[-0.045,16.42],[-0.032,16.47],[0.018,16.6],[0.005,16.6],[-0.052,16.62],[0.04,16.67],[-0.005,16.82],[0.045,16.75],[-0.06,16.95],[0.028,17.0],[-0.085,17.05],[-0.04,17.0],[0.06,17.2],[-0.05,17.25],[-0.025,17.35],[0.015,17.55],[-0.075,17.6],[0.04,17.6],[-0.03,17.55],[-0.09,17.7],[0.06,17.55],[0.085,17.6],[-0.02,17.88],[0.03,17.99],[-0.125,17.98],[-0.1,17.85]
];

// ---- reference lines at zero residual (Gmag extent) ----
const parsecZeroLine = [8.3, 18.71];
const fritzZeroLine = [8.0, 19.02];
const gpZeroLine = [8.3, 18.72];

const xy = pts => pts.map(([x, y]) => ({ x: x, y: y }));
const vline = ends => ends.map(g => ({ x: 0, y: g }));
const fmtColor = v => (v < 0 ? '\u2212' : '') + Math.abs(v).toFixed(1);

const framePlugin = {
  id: 'frame',
  afterDatasetsDraw(chart, args, opts) {
    const a = chart.chartArea, ctx = chart.ctx;
    ctx.save();
    ctx.strokeStyle = opts.color || '#000';
    ctx.lineWidth = opts.width || 1.5;
    ctx.strokeRect(a.left, a.top, a.right - a.left, a.bottom - a.top);
    ctx.restore();
  }
};

const boxLegend = {
  id: 'boxLegend',
  afterDatasetsDraw(chart, args, o) {
    if (!o || !o.show) return;
    const a = chart.chartArea, ctx = chart.ctx;
    const x0 = a.right - o.right - o.width, y0 = a.top + o.top;
    ctx.save();
    ctx.beginPath();
    ctx.roundRect(x0, y0, o.width, o.height, 8);
    ctx.fillStyle = 'rgba(255,255,255,0.8)';
    ctx.fill();
    ctx.strokeStyle = '#d0d0d0';
    ctx.lineWidth = 1.5;
    ctx.stroke();
    ctx.font = o.font;
    ctx.textBaseline = 'middle';
    ctx.fillStyle = '#000';
    chart.data.datasets.filter(d => d.label).forEach((d, i) => {
      const yy = y0 + o.firstRow + i * o.rowGap;
      ctx.strokeStyle = d.borderColor;
      ctx.lineWidth = d.borderWidth;
      ctx.beginPath();
      ctx.moveTo(x0 + o.lineX, yy);
      ctx.lineTo(x0 + o.lineX + o.lineLen, yy);
      ctx.stroke();
      ctx.fillText(d.label, x0 + o.textX, yy);
    });
    ctx.restore();
  }
};

function panel(id, box, o) {
  const padT = 20, padR = 45;
  const cl = Math.round(o.yTitleX - 4 - o.yTitleSize / 2);
  const yw = box.L - cl;
  const xh = o.xTitle ? Math.round(o.xTitleY - box.B + o.xTitleSize / 2 + 4) : o.xh;
  const w = yw + (box.R - box.L) + padR;
  const h = padT + (box.B - box.T) + xh;
  const cv = document.getElementById(id);
  cv.width = w; cv.height = h;
  cv.style.left = cl + 'px';
  cv.style.top = (box.T - padT) + 'px';
  cv.style.width = w + 'px';
  cv.style.height = h + 'px';

  const tickFont = { family: 'DejaVu Sans', size: o.tickSize, lineHeight: 1 };
  const grid = { display: true, drawOnChartArea: false, drawTicks: true, tickLength: o.tickLen, tickColor: o.frameColor, tickWidth: o.frameWidth };

  return new Chart(cv, {
    type: 'scatter',
    data: { datasets: o.datasets },
    options: {
      responsive: false,
      animation: false,
      devicePixelRatio: 1,
      layout: { padding: { left: 0, top: padT, right: padR, bottom: 0 } },
      plugins: {
        legend: { display: false },
        tooltip: { enabled: false },
        frame: { color: o.frameColor, width: o.frameWidth },
        boxLegend: o.legend || { show: false }
      },
      scales: {
        x: {
          type: 'linear', position: 'bottom', min: o.xMin, max: o.xMax,
          grid: grid, border: { display: false },
          ticks: { stepSize: o.xStep, includeBounds: false, autoSkip: false, maxRotation: 0, padding: o.xPad, font: tickFont, color: o.tickColor, callback: fmtColor },
          title: { display: !!o.xTitle, text: o.xTitle || '', color: '#000', font: { family: 'DejaVu Sans', size: o.xTitleSize || 12, lineHeight: 1 }, padding: { top: 0, bottom: 4 } },
          afterFit: s => { s.height = xh; }
        },
        y: {
          type: 'linear', position: 'left', reverse: true, min: o.yMin, max: o.yMax,
          grid: grid, border: { display: false },
          ticks: { stepSize: 2, includeBounds: false, autoSkip: false, padding: o.yPad, font: tickFont, color: o.tickColor, callback: v => String(v) },
          title: { display: true, text: 'Gmag', color: '#000', font: { family: 'DejaVu Sans', size: o.yTitleSize, lineHeight: 1 }, padding: { top: 4, bottom: 0 } },
          afterFit: s => { s.width = yw; }
        }
      }
    },
    plugins: [framePlugin, boxLegend]
  });
}

function dots(pts, r) {
  return { data: xy(pts), showLine: false, pointRadius: r, pointHoverRadius: r, pointBorderWidth: 0, backgroundColor: '#1f77b4', order: 2 };
}
function zeroLine(ends, color, width, dash) {
  return { data: vline(ends), showLine: true, pointRadius: 0, borderColor: color, borderWidth: width, borderDash: dash, order: 1 };
}

// CMD
panel('cmd', { L: 120, T: 60, R: 1033, B: 652 }, {
  xMin: -0.5, xMax: 3.0, xStep: 0.5, yMin: 6, yMax: 19,
  tickSize: 26, tickColor: '#000', tickLen: 7, xPad: 13, yPad: 4,
  frameColor: '#000', frameWidth: 1.5,
  xTitle: 'Bp-Rp', xTitleSize: 38, xTitleY: 729,
  yTitleX: 34, yTitleSize: 38,
  legend: { show: true, right: 17, top: 21, width: 500, height: 185, firstRow: 34, rowGap: 58, lineX: 14, lineLen: 81, textX: 126, font: '39px "DejaVu Sans"' },
  datasets: [
    { label: 'PARSEC isochrone', data: xy(parsecIso), showLine: true, pointRadius: 0, borderColor: '#ff7f0e', borderWidth: 4, tension: 0.25, order: 3 },
    { label: 'Fritzewski', data: xy(fritzRidge), showLine: true, pointRadius: 0, borderColor: '#1f77b4', borderWidth: 4, tension: 0.25, order: 2 },
    { label: 'MSRL GP', data: xy(gpRidge), showLine: true, pointRadius: 0, borderColor: '#d62728', borderWidth: 4, tension: 0.25, order: 1 },
    { data: xy(cmdStars), showLine: false, pointRadius: 3, pointHoverRadius: 3, pointBorderWidth: 0, backgroundColor: '#7f7f7f', order: 4 }
  ]
});

// PARSEC residuals
panel('parsec', { L: 1167, T: 54, R: 1792, B: 661 }, {
  xMin: -0.2, xMax: 0.4, xStep: 0.1, yMin: 8.23, yMax: 18.71,
  tickSize: 18, tickColor: '#222', tickLen: 6, xPad: 6, yPad: 8,
  frameColor: '#000', frameWidth: 1.5, xh: 50,
  yTitleX: 1108, yTitleSize: 25,
  datasets: [zeroLine(parsecZeroLine, '#ff0000', 3.5, [14, 6]), dots(parsecResid, 2.3)]
});

// Fritzewski residuals
panel('fritz', { L: 1978, T: 56, R: 2452, B: 669 }, {
  xMin: -0.151, xMax: 0.4, xStep: 0.1, yMin: 8, yMax: 19.02,
  tickSize: 14, tickColor: '#333', tickLen: 5, xPad: 3, yPad: 5,
  frameColor: '#555', frameWidth: 1.3, xh: 45,
  yTitleX: 1935, yTitleSize: 19,
  datasets: [zeroLine(fritzZeroLine, '#ff7f0e', 3, [10, 5]), dots(fritzResid, 1.9)]
});

// This work (MSRL GP) residuals
panel('gp', { L: 1781, T: 863, R: 2551, B: 1611 }, {
  xMin: -0.2, xMax: 0.4, xStep: 0.1, yMin: 8.25, yMax: 18.72,
  tickSize: 22, tickColor: '#222', tickLen: 7, xPad: 6, yPad: 5,
  frameColor: '#000', frameWidth: 1.5, xh: 55,
  yTitleX: 1710, yTitleSize: 32,
  datasets: [zeroLine(gpZeroLine, '#ff0000', 3.5, [14, 6]), dots(gpResid, 2.6)]
});
</script>
</body>
</html>
